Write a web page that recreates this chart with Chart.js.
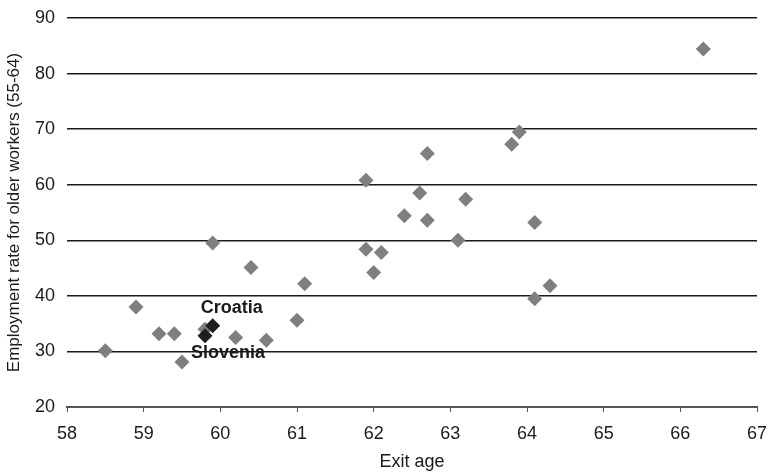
<!DOCTYPE html>
<html>
<head>
<meta charset="utf-8">
<script src="https://cdn.jsdelivr.net/npm/chart.js@4/dist/chart.umd.min.js"></script>
<style>
	html, body { margin: 0; padding: 0; background: #ffffff; }
	#wrap { width: 769px; height: 473px; }
</style>
</head>
<body>
<div id="wrap"><canvas id="chart" width="769" height="473"></canvas></div>
<script>
(function() {
	'use strict';

	// Exit age (x) and employment rate 55-64 (y)
	const exitAge = [58.5, 58.9, 59.2, 59.4, 59.5, 59.8, 59.9, 60.2, 60.4, 60.6, 61.0, 61.1, 61.9, 61.9,
		62.0, 62.1, 62.4, 62.6, 62.7, 62.7, 63.1, 63.2, 63.8, 63.9, 64.1, 64.1, 64.3, 66.3];
	const employmentRate = [30.1, 38.0, 33.2, 33.2, 28.1, 34.0, 49.5, 32.5, 45.1, 32.0, 35.6, 42.2, 60.8, 48.4,
		44.2, 47.8, 54.4, 58.5, 65.6, 53.6, 50.0, 57.4, 67.3, 69.5, 53.2, 39.5, 41.8, 84.4];

	// Highlighted countries
	const highlightNames = ['Croatia', 'Slovenia'];
	const highlightAge = [59.9, 59.8];
	const highlightRate = [34.6, 32.8];

	const xTicks = [58, 59, 60, 61, 62, 63, 64, 65, 66, 67];
	const yTicks = [20, 30, 40, 50, 60, 70, 80, 90];

	const textColor = '#1a1a1a';
	const fontFamily = '"Liberation Sans", Arial, Helvetica, sans-serif';

	function toPoints(xs, ys) {
		return xs.map(function(x, i) {
			return { x: x, y: ys[i] };
		});
	}

	// Draws the country names next to the dark markers
	const labelPlugin = {
		id: 'countryLabels',
		afterDatasetsDraw: function(chart) {
			const ctx = chart.ctx;
			const xs = chart.scales.x;
			const ys = chart.scales.y;
			const offsets = [[19, -18], [23, 17]];
			ctx.save();
			ctx.font = 'bold 18px ' + fontFamily;
			ctx.fillStyle = textColor;
			ctx.textAlign = 'center';
			ctx.textBaseline = 'middle';
			highlightNames.forEach(function(name, i) {
				const px = xs.getPixelForValue(highlightAge[i]) + offsets[i][0];
				const py = ys.getPixelForValue(highlightRate[i]) + offsets[i][1];
				ctx.fillText(name, px, py);
			});
			ctx.restore();
		}
	};

	const ctx = document.getElementById('chart').getContext('2d');

	new Chart(ctx, {
		type: 'scatter',
		data: {
			datasets: [{
				label: 'Countries',
				data: toPoints(exitAge, employmentRate),
				pointStyle: 'rectRot',
				pointRadius: 7.5,
				pointBackgroundColor: '#7f7f7f',
				pointBorderColor: '#7f7f7f',
				pointBorderWidth: 0,
				order: 2
			}, {
				label: 'Highlighted',
				data: toPoints(highlightAge, highlightRate),
				pointStyle: 'rectRot',
				pointRadius: 7.5,
				pointBackgroundColor: '#1e1e1e',
				pointBorderColor: '#1e1e1e',
				pointBorderWidth: 0,
				order: 1
			}]
		},
		options: {
			responsive: false,
			animation: false,
			layout: {
				padding: { top: 18, right: 12, left: 0, bottom: 0 }
			},
			plugins: {
				legend: { display: false },
				tooltip: { enabled: false }
			},
			scales: {
				x: {
					type: 'linear',
					min: 58,
					max: 67,
					afterBuildTicks: function(scale) {
						scale.ticks = xTicks.map(function(v) { return { value: v }; });
					},
					afterFit: function(scale) {
						scale.height = 66;
						scale.paddingLeft = 0;
						scale.paddingRight = 0;
					},
					ticks: {
						color: textColor,
						padding: 11,
						maxRotation: 0,
						font: { family: fontFamily, size: 18 }
					},
					grid: {
						display: true,
						drawOnChartArea: false,
						drawTicks: true,
						tickLength: 5,
						color: '#555555',
						lineWidth: 1
					},
					border: { display: true, color: '#555555', width: 2 },
					title: {
						display: true,
						text: 'Exit age',
						color: textColor,
						padding: { top: 2, bottom: 0 },
						font: { family: fontFamily, size: 18 }
					}
				},
				y: {
					type: 'linear',
					min: 20,
					max: 90,
					afterBuildTicks: function(scale) {
						scale.ticks = yTicks.map(function(v) { return { value: v }; });
					},
					afterFit: function(scale) {
						scale.width = 67;
						scale.paddingTop = 0;
						scale.paddingBottom = 0;
					},
					ticks: {
						color: textColor,
						padding: 12,
						font: { family: fontFamily, size: 18 }
					},
					grid: {
						display: true,
						drawTicks: false,
						color: '#1a1a1a',
						lineWidth: 1.5
					},
					border: { display: false },
					title: {
						display: true,
						text: 'Employment rate for older workers (55-64)',
						color: textColor,
						padding: { top: 4, bottom: 0 },
						font: { family: fontFamily, size: 17 }
					}
				}
			}
		},
		plugins: [labelPlugin]
	});
})();
</script>
</body>
</html>
